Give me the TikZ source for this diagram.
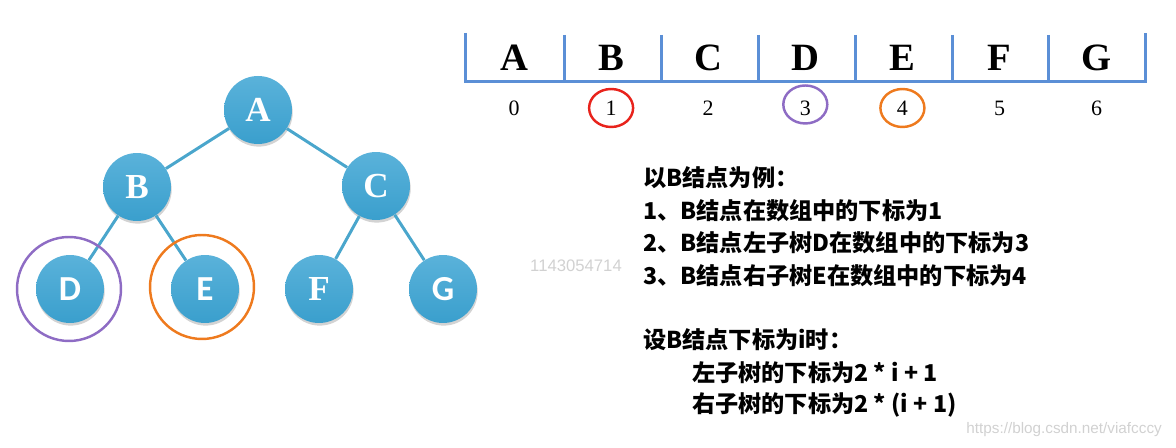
\documentclass[tikz,border=0pt]{standalone}
\usepackage{fontspec}
\setmainfont{Liberation Serif}
\newfontfamily\cjk{Noto Sans CJK SC}
\newfontfamily\calfont{Carlito}
\newfontfamily\wmfont{Liberation Sans}
\usepackage{xcolor}
\usepackage{tikz}
\usetikzlibrary{shapes,positioning,shadows}

\definecolor{ballblue}{HTML}{3A9FCD}
\definecolor{balltop}{HTML}{5AB2DA}
\definecolor{edgeblue}{HTML}{4AA6CC}
\definecolor{arrblue}{HTML}{5B8FD6}
\definecolor{ringred}{HTML}{E8231C}
\definecolor{ringpurple}{HTML}{8E6CC4}
\definecolor{ringorange}{HTML}{EE7A1E}

\begin{document}
\begin{tikzpicture}[
    x=0.02cm, y=-0.02cm,
    ball/.style={circle, minimum size=1.36cm, top color=balltop, bottom color=ballblue,
        drop shadow={shadow xshift=0.4pt, shadow yshift=-1.5pt, opacity=0.35},
        text=white, font=\fontsize{20}{20}\selectfont\bfseries},
    link/.style={edgeblue, line width=1.7pt},
    ring/.style={circle, draw, line width=1.4pt, minimum size=2.08cm},
    oval/.style={ellipse, draw, line width=1.4pt, minimum width=0.88cm, minimum height=0.76cm},
    cell/.style={font=\fontsize{22}{22}\selectfont\bfseries},
    idx/.style={font=\fontsize{12.5}{12.5}\selectfont},
    note/.style={anchor=west, font=\cjk\bfseries\fontsize{13.2}{13.2}\selectfont},
    wmark/.style={text=black!18, font=\wmfont\fontsize{9.5}{9.5}\selectfont}
]
\useasboundingbox (0,0) rectangle (1176,448);

% tree
\node[ball] (A) at (258,110) {A};
\node[ball] (B) at (137,187) {B};
\node[ball] (C) at (376,186) {C};
\node[ball] (D) at (70,289) {\calfont D};
\node[ball] (E) at (205,289) {\calfont E};
\node[ball] (F) at (319,289) {F};
\node[ball] (G) at (443,289) {\calfont G};

\draw[link] (A) -- (B);
\draw[link] (A) -- (C);
\draw[link] (B) -- (D);
\draw[link] (B) -- (E);
\draw[link] (C) -- (F);
\draw[link] (C) -- (G);

\node[ring, draw=ringpurple] (ringD) at (69,289) {};
\node[ring, draw=ringorange] (ringE) at (202,287) {};

% array
\draw[arrblue, line width=1.7pt] (465,33) -- (465,82) -- (1145,82) -- (1145,33);
\foreach \x in {564,661,758,855,952,1048}
    \draw[arrblue, line width=1.7pt] (\x,35) -- (\x,82);
\foreach \l [count=\i from 0] in {A,B,C,D,E,F,G} {
    \node[cell] (cell\i) at (514+97.1*\i,58) {\l};
    \node[idx] (idx\i) at (514+97.1*\i,108) {\i};
}
\node[oval, draw=ringred] (ring1) at (idx1) {};
\node[oval, draw=ringpurple] (ring3) at ([yshift=2pt]idx3) {};
\node[oval, draw=ringorange] (ring4) at (idx4) {};

% notes
\node[note] (t1) at (637,178) {以B结点为例：};
\node[note] (t2) at (637,211) {1、B结点在数组中的下标为1};
\node[note] (t3) at (637,243) {2、B结点左子树D在数组中的下标为3};
\node[note] (t4) at (637,276) {3、B结点右子树E在数组中的下标为4};
\node[note] (t5) at (637,340) {设B结点下标为i时：};
\node[note] (t6) at (686,373) {左子树的下标为2 * i + 1};
\node[note] (t7) at (686,405) {右子树的下标为2 * (i + 1)};

\node[wmark] (wm1) at (576,266) {1143054714};
\node[wmark, anchor=east, font=\wmfont\fontsize{8.7}{8.7}\selectfont] (wm2) at (1168,430) {https://blog.csdn.net/viafcccy};

\end{tikzpicture}
\end{document}
